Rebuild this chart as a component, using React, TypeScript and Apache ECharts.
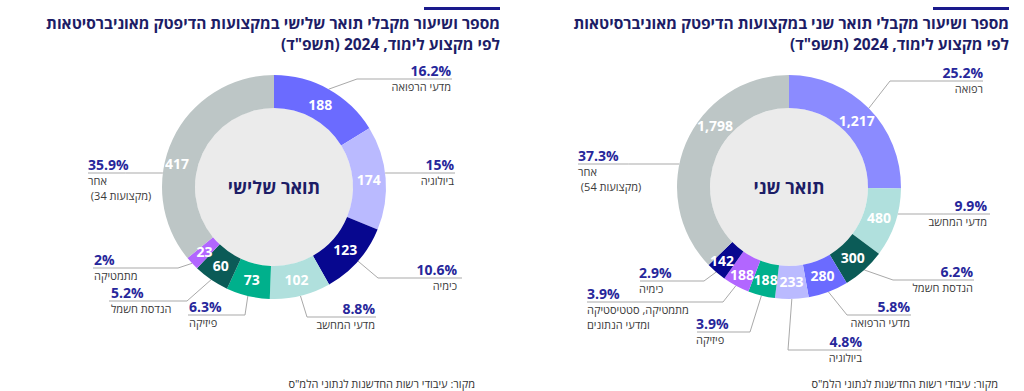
import React, { useEffect, useRef } from 'react';
import * as echarts from 'echarts';

// ---------- data ----------
const leftTitle1 = 'מספר ושיעור מקבלי תואר שלישי במקצועות הדיפטק מאוניברסיטאות';
const leftTitle2 = '\u2067לפי מקצוע לימוד, 2024 (תשפ"ד)\u2069';
const rightTitle1 = 'מספר ושיעור מקבלי תואר שני במקצועות הדיפטק מאוניברסיטאות';
const rightTitle2 = '\u2067לפי מקצוע לימוד, 2024 (תשפ"ד)\u2069';
const sourceText = 'מקור: עיבודי רשות החדשנות לנתוני הלמ"ס';

const leftCenter = 'תואר שלישי';
const leftCategories = ['מדעי הרפואה', 'ביולוגיה', 'כימיה', 'מדעי המחשב', 'פיזיקה', 'הנדסת חשמל', 'מתמטיקה', 'אחר\n\u200E (34 מקצועות)\u200E'];
const leftValues = [188, 174, 123, 102, 73, 60, 23, 417];

const rightCenter = 'תואר שני';
const rightCategories = ['רפואה', 'מדעי המחשב', 'הנדסת חשמל', 'מדעי הרפואה', 'ביולוגיה', 'פיזיקה', 'מתמטיקה, סטטיסטיקה\nומדעי הנתונים', 'כימיה', 'אחר\n\u200E (54 מקצועות)\u200E'];
const rightValues = [1217, 480, 300, 280, 233, 188, 188, 142, 1798];

// ---------- styles / layout ----------
const leftColors = ['#6b6bff', '#babaff', '#07078f', '#b0e0dd', '#00b08c', '#0b5b57', '#b266ff', '#bdc6c6'];
const rightColors = ['#8b8bff', '#b0e0dd', '#0b5b57', '#6b6bff', '#babaff', '#00b08c', '#b266ff', '#07078f', '#bdc6c6'];

type LabelPos = { side: 'l' | 'r'; y: number; ex: number | null; end: number; tx: number };

const leftLabelPos: LabelPos[] = [
  { side: 'r', y: 79, ex: 357, end: 452, tx: 451 },
  { side: 'r', y: 173, ex: null, end: 455, tx: 454 },
  { side: 'r', y: 278, ex: 378, end: 462, tx: 457 },
  { side: 'r', y: 317, ex: 307, end: 376, tx: 375 },
  { side: 'l', y: 315, ex: 245, end: 188, tx: 189 },
  { side: 'l', y: 301, ex: 187, end: 109, tx: 111 },
  { side: 'l', y: 268, ex: 178, end: 93, tx: 94 },
  { side: 'l', y: 173, ex: null, end: 88, tx: 88 },
];
const rightLabelPos: LabelPos[] = [
  { side: 'r', y: 81, ex: 890, end: 983, tx: 983 },
  { side: 'r', y: 214, ex: null, end: 990, tx: 987 },
  { side: 'r', y: 280, ex: 893, end: 974, tx: 973 },
  { side: 'r', y: 315, ex: 847, end: 911, tx: 910 },
  { side: 'r', y: 350, ex: 788, end: 862, tx: 862 },
  { side: 'l', y: 332, ex: 750, end: 697, tx: 696 },
  { side: 'l', y: 302, ex: 723, end: 587, tx: 587 },
  { side: 'l', y: 281, ex: 704, end: 640, tx: 639 },
  { side: 'l', y: 164, ex: null, end: 578, tx: 578 },
];
// value labels placed away from the slice middle (null = slice middle)
const leftInnerLabelPos: (number[] | null)[] = [null, null, null, null, null, null, null, [177, 163]];
const rightInnerLabelPos: (number[] | null)[] = [null, null, null, null, null, null, [742, 274], [722, 260], [715, 125]];

const FONT = '"Open Sans", "Liberation Sans", Arial, sans-serif';
const NAVY = '#1d1d66';
const PCT = '#27279b';
const R_IN = 79;
const R_OUT = 112;
const R_MID = 95;

function buildSeries(
  cats: string[], vals: number[], colors: string[], pos: LabelPos[], innerPos: (number[] | null)[],
  cx: number, cy: number, centerText: string,
): any[] {
  const total = vals.reduce((a, b) => a + b, 0);
  const midAngle = (i: number) => {
    let before = 0;
    for (let k = 0; k < i; k++) before += vals[k];
    return ((before + vals[i] / 2) / total) * Math.PI * 2;
  };
  const edgePoint = (i: number, r: number) => {
    const a = midAngle(i);
    return [cx + r * Math.sin(a), cy - r * Math.cos(a)];
  };
  return [
    {
      type: 'pie', center: [cx, cy], radius: [0, R_IN], silent: true,
      data: [{ name: centerText, value: 1, itemStyle: { color: '#ebebeb' } }],
      label: { show: true, position: 'center', formatter: centerText, fontFamily: FONT, fontSize: 18, fontWeight: 'bold', color: NAVY },
      labelLine: { show: false },
      emphasis: { disabled: true },
    },
    {
      type: 'pie', center: [cx, cy], radius: [R_IN, R_OUT], startAngle: 90, clockwise: true, silent: true,
      avoidLabelOverlap: false,
      data: cats.map((name, i) => ({ name, value: vals[i], itemStyle: { color: colors[i] } })),
      label: {
        show: true, position: 'inside', color: '#ffffff', fontFamily: FONT, fontSize: 14, fontWeight: 'bold',
        formatter: (p: any) => Number(p.value).toLocaleString('en-US'),
      },
      labelLine: { show: false },
      labelLayout: (params: any) => {
        const o = innerPos[params.dataIndex];
        const p = o ? o : edgePoint(params.dataIndex, R_MID);
        return { x: p[0], y: p[1], align: 'center', verticalAlign: 'middle', hideOverlap: false };
      },
      emphasis: { disabled: true },
    },
    {
      type: 'pie', center: [cx, cy], radius: [R_IN, R_OUT], startAngle: 90, clockwise: true, silent: true,
      avoidLabelOverlap: false,
      data: cats.map((name, i) => ({ name, value: vals[i], itemStyle: { color: 'rgba(0,0,0,0)' } })),
      label: {
        show: true, position: 'outside', fontFamily: FONT,
        formatter: (p: any) => {
          const pct = Math.round((p.value / total) * 1000) / 10;
          return `{p|${pct}%}\n` + String(p.name).split('\n').map((s) => `{n|${s}}`).join('\n');
        },
        rich: {
          p: { fontFamily: FONT, fontSize: 14, fontWeight: 'bold', color: PCT, lineHeight: 18 },
          n: { fontFamily: FONT, fontSize: 11, color: '#3a3a3a', lineHeight: 15 },
        },
      },
      labelLine: { show: true, lineStyle: { color: '#a9a9a9', width: 1 } },
      labelLayout: (params: any) => {
        const c = pos[params.dataIndex];
        let pts: number[][];
        if (c.ex == null) {
          const dy = c.y - cy;
          const dx = Math.sqrt(Math.max(0, R_OUT * R_OUT - dy * dy));
          const sx = c.side === 'r' ? cx + dx : cx - dx;
          pts = [[sx, c.y], [(sx + c.end) / 2, c.y], [c.end, c.y]];
        } else {
          const s = params.labelLinePoints && params.labelLinePoints[0] ? params.labelLinePoints[0] : edgePoint(params.dataIndex, R_OUT);
          pts = [s, [c.ex, c.y], [c.end, c.y]];
        }
        return {
          x: c.tx, y: c.y - 18,
          align: c.side === 'r' ? 'right' : 'left',
          verticalAlign: 'top',
          hideOverlap: false,
          labelLinePoints: pts,
        };
      },
      emphasis: { disabled: true },
    },
  ];
}

export default function App() {
  const ref = useRef<HTMLDivElement>(null);
  useEffect(() => {
    document.body.style.margin = '0';
    const chart = echarts.init(ref.current!, null, { renderer: 'svg' });
    const titleFont = `bold 15.5px ${FONT}`;
    chart.setOption({
      animation: false,
      backgroundColor: '#ffffff',
      series: [
        ...buildSeries(leftCategories, leftValues, leftColors, leftLabelPos, leftInnerLabelPos, 274, 187, leftCenter),
        ...buildSeries(rightCategories, rightValues, rightColors, rightLabelPos, rightInnerLabelPos, 789, 187, rightCenter),
      ],
      graphic: [
        { type: 'rect', shape: { x: 424, y: 7, width: 76, height: 3 }, style: { fill: '#1a1a8c' } },
        { type: 'rect', shape: { x: 933, y: 7, width: 76, height: 3 }, style: { fill: '#1a1a8c' } },
        { type: 'text', x: 500, y: 23, style: { text: leftTitle1, font: titleFont, fill: NAVY, align: 'right', verticalAlign: 'middle' } },
        { type: 'text', x: 500, y: 44, style: { text: leftTitle2, font: titleFont, fill: NAVY, align: 'right', verticalAlign: 'middle' } },
        { type: 'text', x: 1009, y: 23, style: { text: rightTitle1, font: titleFont, fill: NAVY, align: 'right', verticalAlign: 'middle' } },
        { type: 'text', x: 1009, y: 44, style: { text: rightTitle2, font: titleFont, fill: NAVY, align: 'right', verticalAlign: 'middle' } },
        { type: 'text', x: 475, y: 383, style: { text: sourceText, font: `11px ${FONT}`, fill: '#333333', align: 'right', verticalAlign: 'middle' } },
        { type: 'text', x: 998, y: 383, style: { text: sourceText, font: `11px ${FONT}`, fill: '#333333', align: 'right', verticalAlign: 'middle' } },
      ],
    });
    return () => chart.dispose();
  }, []);
  return <div ref={ref} style={{ width: 1024, height: 391 }} />;
}
